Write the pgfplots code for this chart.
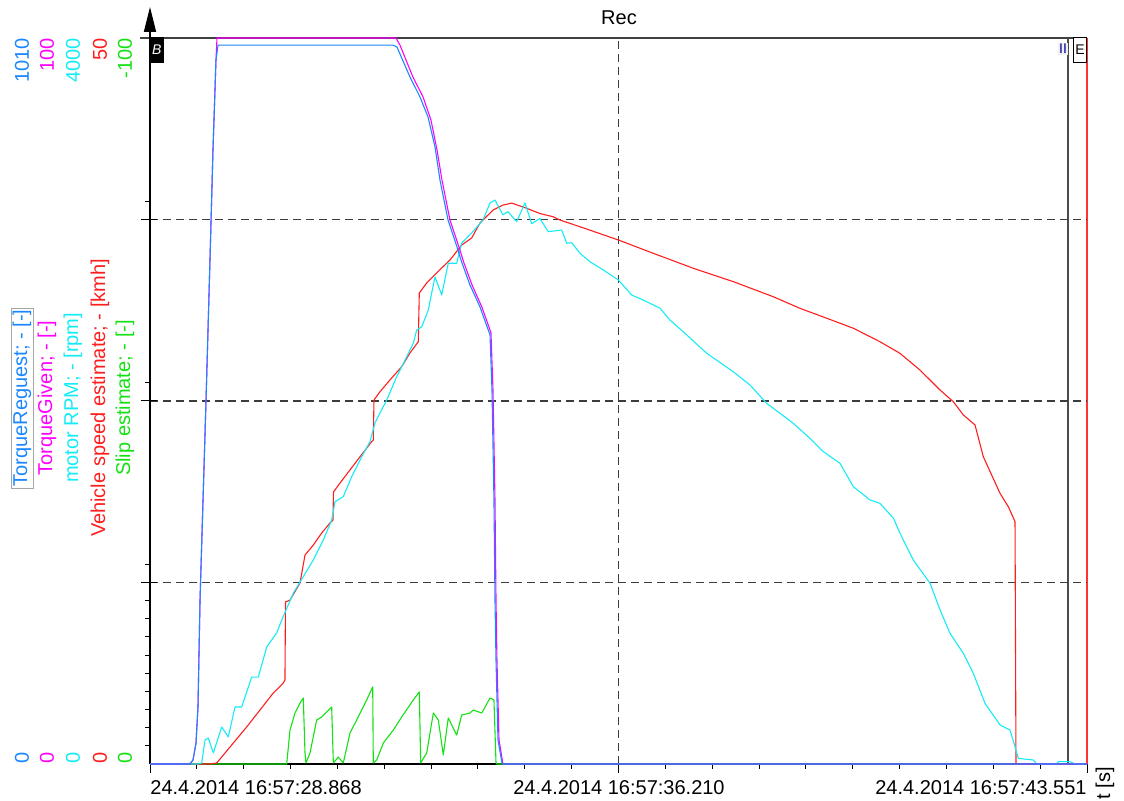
\documentclass[border=0pt]{standalone}
\usepackage{pgfplots}
\pgfplotsset{compat=1.18}
\usepackage{pgfplotstable}
\usepackage{fontspec}
\setmainfont{Liberation Sans}
\usetikzlibrary{arrows.meta}

\definecolor{cReq}{RGB}{25,135,255}
\definecolor{cGiv}{RGB}{255,0,255}
\definecolor{cRpm}{RGB}{20,235,245}
\definecolor{cSpd}{RGB}{255,30,30}
\definecolor{cSlip}{RGB}{20,225,20}
\definecolor{cGrid}{RGB}{60,60,60}

% time [s] after 24.4.2014 16:57:28.868 ; TorqueRequest [-]
\pgfplotstableread{
t v
0 0
0.627 0
0.674 5.6
0.721 29.2
0.752 79.3
0.784 228.2
0.831 367.3
0.878 506.4
0.940 701.2
0.987 854.2
1.034 979.4
1.066 1000
3.808 1000
3.870 997.5
4.074 955.7
4.231 927.9
4.357 900.1
4.466 858.4
4.544 812.4
4.670 756.8
4.811 719.2
4.889 697.0
5.014 666.4
5.171 635.8
5.328 597.0
5.359 520.3
5.390 367.3
5.406 228.2
5.422 144.7
5.453 33.4
5.516 1.4
5.531 0
14.683 0
}\tabReq

% TorqueGiven [-]
\pgfplotstableread{
t v
0 0
0.627 0
0.674 0.55
0.721 2.9
0.752 7.9
0.784 22.6
0.831 36.4
0.878 50.1
0.940 69.4
0.987 84.6
1.034 97.0
1.050 100
3.855 100
3.918 99.0
4.121 94.6
4.278 91.9
4.403 88.7
4.497 84.6
4.576 80.4
4.701 74.9
4.842 71.2
4.920 69.0
5.046 66.0
5.202 62.9
5.343 59.4
5.375 51.5
5.406 36.4
5.422 22.6
5.437 14.3
5.469 3.3
5.531 0
14.683 0
}\tabGiv

% motor RPM [rpm]
\pgfplotstableread{
t v
0 0
0.752 0
0.810 5.5
0.862 132
0.914 143
0.992 61
1.124 204
1.227 149
1.332 314
1.437 314
1.594 479
1.697 479
1.829 645
1.985 722
2.064 793
2.246 942
2.402 1032
2.559 1124
2.716 1234
2.847 1344
2.899 1445
3.029 1473
3.161 1583
3.317 1693
3.447 1776
3.526 1879
3.604 1934
3.709 2005
3.866 2134
4.022 2244
4.126 2318
4.179 2391
4.258 2409
4.361 2501
4.414 2595
4.466 2683
4.571 2584
4.674 2759
4.806 2759
4.884 2870
5.041 2926
5.218 2997
5.328 3091
5.406 3107
5.531 3026
5.610 3043
5.746 2988
5.876 3091
5.981 2977
6.111 3005
6.241 2933
6.451 2942
6.530 2869
6.608 2872
6.738 2814
6.895 2767
7.103 2722
7.338 2667
7.548 2584
7.730 2556
7.992 2511
8.148 2446
8.383 2373
8.723 2263
9.140 2161
9.402 2088
9.664 1987
10.080 1877
10.342 1794
10.551 1721
10.812 1657
11.021 1528
11.282 1455
11.439 1436
11.648 1355
11.753 1271
11.961 1124
12.223 996
12.379 850
12.536 720
12.745 610
12.901 500
13.085 334
13.320 215
13.476 187
13.555 95
13.607 31
13.842 22
13.895 0
14.208 0
14.233 13
14.416 13
14.495 0
14.683 0
}\tabRpm

% Vehicle speed estimate [kmh]
\pgfplotstableread{
t v
0 0
0.940 0
1.045 0.07
1.254 1.17
1.515 2.55
1.724 3.72
1.932 4.89
2.089 5.58
2.115 5.79
2.123 11.16
2.194 11.29
2.351 12.47
2.429 14.39
2.559 15.08
2.691 15.91
2.821 16.60
2.868 16.80
2.875 18.73
2.977 19.35
3.134 20.25
3.291 21.16
3.474 22.20
3.499 22.31
3.510 25.07
3.604 25.64
3.761 26.45
3.944 27.36
4.074 28.31
4.204 29.08
4.220 32.44
4.336 33.13
4.493 33.82
4.571 34.16
4.701 34.71
4.884 35.74
5.041 36.23
5.171 37.26
5.375 38.15
5.531 38.49
5.668 38.63
5.903 38.27
6.111 37.91
6.315 37.69
6.425 37.46
6.738 37.00
7.338 36.09
7.887 35.17
8.514 34.14
9.140 33.22
9.767 32.18
10.186 31.38
10.604 30.70
11.021 30.01
11.439 29.08
11.753 28.28
12.066 27.13
12.379 25.76
12.588 24.95
12.745 24.04
12.928 23.35
13.058 21.16
13.320 18.64
13.450 17.72
13.555 16.69
13.570 0.07
13.578 0
14.683 0
}\tabSpd

% Slip estimate [-]
\pgfplotstableread{
t v
0 0
2.142 0
2.194 -4.68
2.272 -7.02
2.351 -8.40
2.402 -9.09
2.429 -1.52
2.444 -0.14
2.507 -1.52
2.612 -6.06
2.690 -6.47
2.769 -7.16
2.847 -7.85
2.873 -0.14
2.951 -0.96
3.029 -0.14
3.134 -4.27
3.239 -6.06
3.396 -8.82
3.490 -10.61
3.499 -0.14
3.553 -0.55
3.656 -2.89
3.813 -4.68
3.944 -6.47
4.126 -8.82
4.220 -9.92
4.242 -0.14
4.336 -1.52
4.440 -7.02
4.518 -6.06
4.596 -1.24
4.674 -6.34
4.806 -3.99
4.884 -6.75
5.014 -7.02
5.066 -7.44
5.198 -7.02
5.328 -9.09
5.390 -8.82
5.422 -0.14
5.437 0
14.683 0
}\tabSlip

\begin{document}
\begin{tikzpicture}[x=1pt,y=1pt]
\useasboundingbox (0,0) rectangle (562,400.5);
% top frame line and cursor lines (behind the curves)
\draw[black!75, line width=0.75pt] (70,381.5) -- (543.5,381.5);
\draw[black!70, line width=0.7pt] (534,381.5) -- (534,18.5);
\draw[red!80, line width=0.7pt] (543.5,381.5) -- (543.5,18.5);
\begin{axis}[
  at={(75pt,18.5pt)}, anchor=south west,
  scale only axis, width=468.5pt, height=363pt,
  xmin=0, xmax=14.683, ymin=0, ymax=40,
  clip=false,
  axis lines*=left,
  axis line style={black, line width=0.8pt},
  xtick={7.3415},
  extra x ticks={0,14.683},
  extra x tick style={grid=none},
  extra x tick labels={{},{}},
  minor xtick={0.7342,1.4683,2.2025,2.9366,3.6708,4.4049,5.1391,5.8732,6.6074,8.0757,8.8098,9.5440,10.2781,11.0123,11.7464,12.4806,13.2147,13.9489},
  ytick={10,20,30},
  minor ytick={1,...,9,11,...,19,21,...,29,31,...,39},
  xticklabels={}, yticklabels={},
  tick align=outside,
  major tick length=4.5pt, minor tick length=2.5pt,
  tick style={black, line width=0.5pt},
  grid=major,
  major grid style={cGrid, line width=0.75pt, dash pattern=on 4pt off 2.5pt},
  every axis plot/.append style={line width=0.55pt, line join=round},
]
\addplot[cSlip] table[x=t, y expr=-\thisrow{v}*0.4] {\tabSlip};
\addplot[cSpd] table[x=t, y expr=\thisrow{v}*0.8] {\tabSpd};
\addplot[cRpm] table[x=t, y expr=\thisrow{v}*0.01] {\tabRpm};
\addplot[cGiv] table[x=t, y expr=\thisrow{v}*0.4] {\tabGiv};
\addplot[cReq] table[x=t, y expr=\thisrow{v}*40/1010] {\tabReq};
\end{axis}

\draw[black, line width=0.8pt, -{Triangle[length=12.5pt,width=6pt]}] (75,381.5) -- (75,397);
\foreach \yy in {109.25,200,290.75} \draw[black, line width=0.5pt] (75,\yy) -- (78.5,\yy);
\node[draw=black, fill=black, text=white, inner sep=0pt, minimum width=6.5pt, minimum height=12.5pt, anchor=north west, font=\itshape\scriptsize] at (75,382) {B};
\node[draw=black, fill=white, inner sep=0pt, minimum width=6.5pt, minimum height=12.5pt, anchor=north east, font=\scriptsize] at (543.5,382) {E};
\node[fill=black!6, inner sep=0.5pt, font=\scriptsize, text=blue!60!black] at (531.5,376) {II};

% title
\node at (309.5,391.5) {Rec};

% left scale labels
\begin{scope}[every node/.style={rotate=90, inner sep=0pt}]
\node[anchor=east, text=cReq] at (11,381.5) {1010};
\node[anchor=east, text=cGiv] at (23.5,381.5) {100};
\node[anchor=east, text=cRpm] at (36.5,381.5) {4000};
\node[anchor=east, text=cSpd] at (50,381.5) {50};
\node[anchor=east, text=cSlip] at (62.5,381.5) {-100};
\node[anchor=west, text=cReq] at (11,18.5) {0};
\node[anchor=west, text=cGiv] at (23.5,18.5) {0};
\node[anchor=west, text=cRpm] at (36.5,18.5) {0};
\node[anchor=west, text=cSpd] at (50,18.5) {0};
\node[anchor=west, text=cSlip] at (62.5,18.5) {0};
\node[text=cReq, draw=black!35, inner sep=0.8pt] at (11,201.5) {TorqueReguest; - [-]};
\node[text=cGiv] at (23.5,201.5) {TorqueGiven; - [-]};
\node[text=cRpm] at (36.5,201.5) {motor RPM; - [rpm]};
\node[text=cSpd] at (50,201.5) {Vehicle speed estimate; - [kmh]};
\node[text=cSlip] at (62.5,201.5) {Slip estimate; - [-]};
\node[anchor=west] at (552.5,0.5) {t [s]};
\end{scope}

% time labels
\node[anchor=north west, inner sep=0pt] at (75,10.5) {24.4.2014 16:57:28.868};
\node[anchor=north, inner sep=0pt] at (309.5,10.5) {24.4.2014 16:57:36.210};
\node[anchor=north east, inner sep=0pt] at (543.5,10.5) {24.4.2014 16:57:43.551};
\end{tikzpicture}
\end{document}
